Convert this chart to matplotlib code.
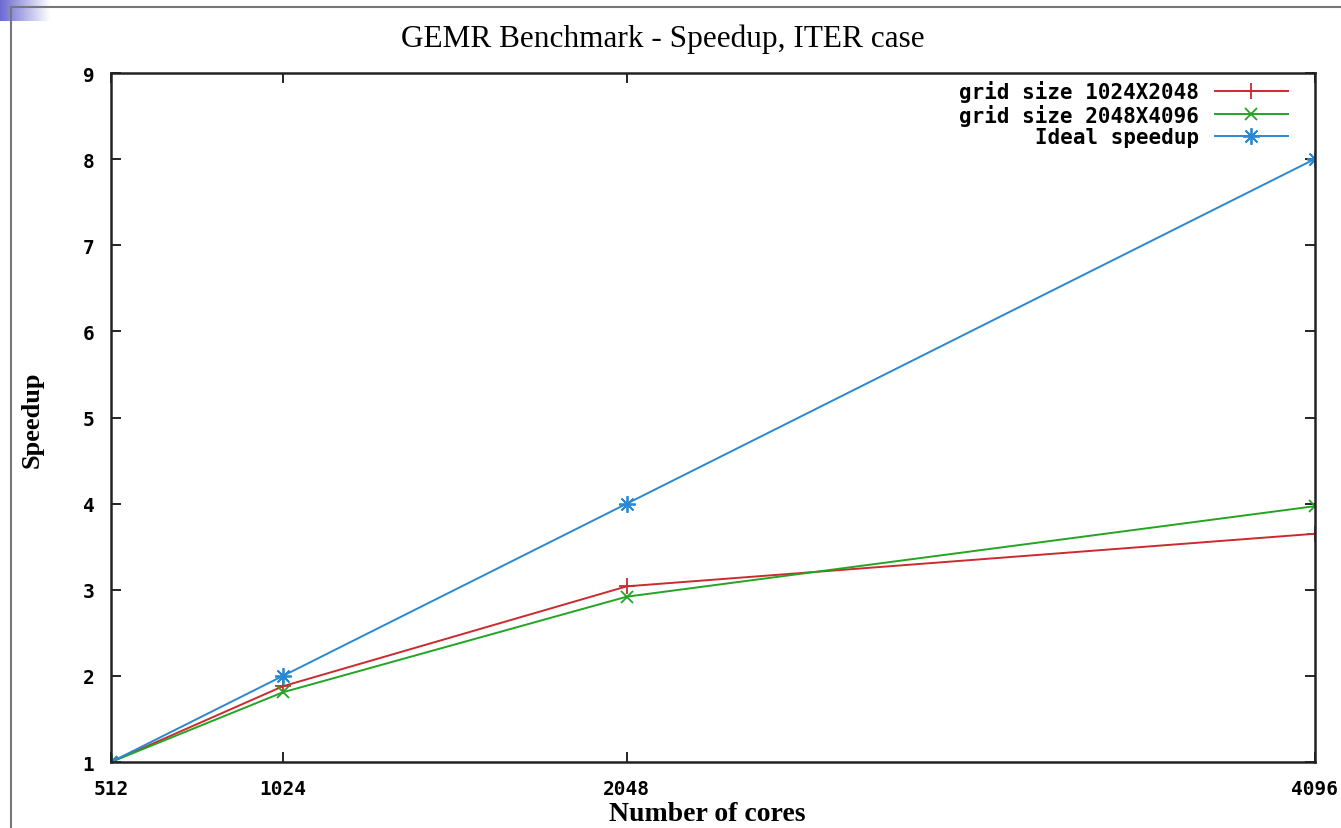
import numpy as np
import matplotlib
matplotlib.use("Agg")
from matplotlib import pyplot as plt
from matplotlib.patches import Rectangle

cores = [512, 1024, 2048, 4096]
speedup_1024x2048 = [1.0, 1.88, 3.04, 3.65]
speedup_2048x4096 = [1.0, 1.81, 2.92, 3.97]
speedup_ideal = [1, 2, 4, 8]

labels = ['grid size 1024X2048', 'grid size 2048X4096', 'Ideal speedup']
colors = ['#cc2a2f', '#22a522', '#2a88d2']

fig = plt.figure(figsize=(13.41, 8.29), dpi=100)
ax = fig.add_axes([0.0828, 0.0796, 0.8975, 0.8311])

# slide frame + gradient corner
grad = np.linspace(1, 0, 64).reshape(1, -1)
cax = fig.add_axes([0, 1 - 22 / 829, 50 / 1341, 22 / 829])
cax.imshow(grad, aspect='auto', cmap=matplotlib.colors.LinearSegmentedColormap.from_list(
    'g', ['white', '#6b6bd0']), extent=[0, 1, 0, 1])
cax.axis('off')
fig.add_artist(Rectangle((11 / 1341, -0.1), 1.2, 1 - 8 / 829 + 0.1, transform=fig.transFigure,
                         fill=False, edgecolor='#777777', linewidth=1.5))

ax.plot(cores, speedup_1024x2048, color=colors[0], marker='+', markersize=12,
        markeredgewidth=1.3, linewidth=1.4, label=labels[0])
ax.plot(cores, speedup_2048x4096, color=colors[1], marker='x', markersize=9,
        markeredgewidth=1.3, linewidth=1.4, label=labels[1])
ax.plot(cores, speedup_ideal, color=colors[2], marker=(8, 2, 0), markersize=12,
        markeredgewidth=1.3, linewidth=1.4, label=labels[2])

ax.set_xlim(512, 4096)
ax.set_ylim(1, 9)
ax.set_xticks(cores)
ax.set_yticks(range(1, 10))
ax.tick_params(direction='in', length=7, width=1.2, top=True, right=True, pad=12)
ax.tick_params(axis='y', pad=12)
for t in ax.get_xticklabels() + ax.get_yticklabels():
    t.set_fontfamily('DejaVu Sans Mono')
    t.set_fontweight('bold')
    t.set_fontsize(14)
for s in ax.spines.values():
    s.set_linewidth(1.8)
    s.set_color('#222222')

fig.text(663 / 1341, 1 - 39 / 829, 'GEMR Benchmark - Speedup, ITER case',
         family='Liberation Serif', fontsize=22.5, ha='center', va='center')
fig.text(707 / 1341, 1 - 815 / 829, 'Number of cores', family='Liberation Serif',
         fontweight='bold', fontsize=20, ha='center', va='center')
fig.text(32 / 1341, 1 - 420 / 829, 'Speedup', family='Liberation Serif',
         fontweight='bold', fontsize=19, ha='center', va='center', rotation=90)

leg = ax.legend(loc='upper right', bbox_to_anchor=(0.9776, 0.99), frameon=False,
                markerfirst=False, handlelength=3.5, handletextpad=0.75,
                labelspacing=0.08, borderaxespad=0, borderpad=0,
                prop={'family': 'DejaVu Sans Mono', 'weight': 'bold', 'size': 15})

fig.savefig('out.png', dpi=100)
